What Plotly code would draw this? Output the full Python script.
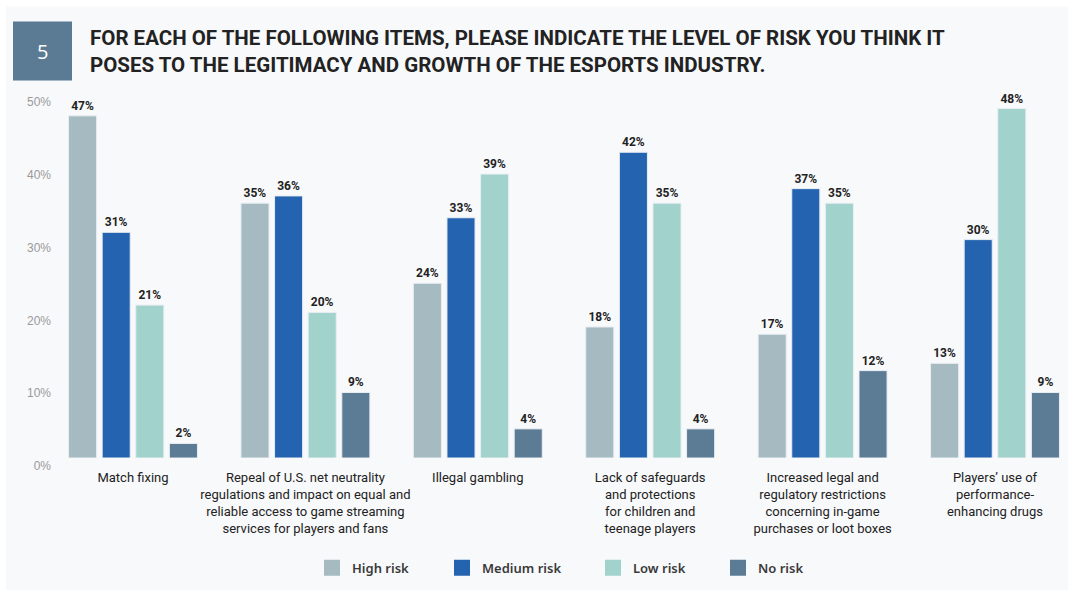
import plotly.graph_objects as go

categories = [
    "Match fixing",
    "Repeal of U.S. net neutrality<br>regulations and impact on equal and<br>reliable access to game streaming<br>services for players and fans",
    "Illegal gambling",
    "Lack of safeguards<br>and protections<br>for children and<br>teenage players",
    "Increased legal and<br>regulatory restrictions<br>concerning in-game<br>purchases or loot boxes",
    "Players’ use of<br>performance-<br>enhancing drugs",
]
series_names = ["High risk", "Medium risk", "Low risk", "No risk"]
high_risk = [47, 35, 24, 18, 17, 13]
medium_risk = [31, 36, 33, 42, 37, 30]
low_risk = [21, 20, 39, 35, 35, 48]
no_risk = [2, 9, 4, 4, 12, 9]
values = [high_risk, medium_risk, low_risk, no_risk]
colors = ["#a5bbc1", "#2463b0", "#a1d2cb", "#5c7b95"]
y_ticks = [0, 10, 20, 30, 40, 50]
y_ticktext = ["0%", "10%", "20%", "30%", "40%", "50%"]
title_lines = [
    "FOR EACH OF THE FOLLOWING ITEMS, PLEASE INDICATE THE LEVEL OF RISK YOU THINK IT",
    "POSES TO THE LEGITIMACY AND GROWTH OF THE ESPORTS INDUSTRY.",
]

W, H = 1068, 590
L, R, T, B = 60, 8, 93.5, 132
pw, ph = W - L - R, H - T - B

def px(x):
    return (x - L) / pw

def py(y):
    return (H - B - y) / ph

NARROW = "Roboto, DejaVu Sans, sans-serif"
legend_left = [324, 454, 605, 730]

fig = go.Figure()
xs = list(range(len(categories)))
for i, (name, vals, col) in enumerate(zip(series_names, values, colors)):
    fig.add_trace(go.Bar(
        x=xs, y=vals, name=name, marker=dict(color=col, line=dict(color="#e8eef2", width=1)),
        text=[f"<b>{v}%</b>" for v in vals], textposition="outside",
        textfont=dict(family=NARROW, size=12, color="#222222"),
        cliponaxis=False, showlegend=False,
    ))
    lg = "legend" if i == 0 else f"legend{i + 1}"
    fig.add_trace(go.Scatter(
        x=[None], y=[None], mode="markers", name=name,
        marker=dict(symbol="square", size=16, color=col),
        showlegend=True, legend=lg,
    ))

# panel, number box and title
fig.add_shape(type="rect", xref="paper", yref="paper",
              x0=px(6), x1=px(W + 5), y0=py(H + 5), y1=py(6),
              fillcolor="#f8f9fb", line=dict(width=0), layer="below")
fig.add_shape(type="rect", xref="paper", yref="paper",
              x0=px(13), x1=px(72), y0=py(80), y1=py(21),
              fillcolor="#5b7b95", line=dict(width=0))
fig.add_annotation(xref="paper", yref="paper", x=px(42.5), y=py(51), text="5",
                   showarrow=False, xanchor="center", yanchor="middle",
                   font=dict(family="Open Sans, sans-serif", size=20, color="white"))
for i, line in enumerate(title_lines):
    fig.add_annotation(xref="paper", yref="paper", x=px(88), y=py(37 + 27 * i), text=f"<b>{line}</b>",
                       showarrow=False, xanchor="left", yanchor="middle",
                       font=dict(family=NARROW, size=20.5, color="#222222"))

legend_style = dict(orientation="h", xanchor="left", y=py(568), yanchor="middle",
                    font=dict(family="Noto Sans, Open Sans, sans-serif", size=13, color="#3a3a3a", weight=600),
                    bgcolor="rgba(0,0,0,0)", borderwidth=0)
legends = {}
for i, xl in enumerate(legend_left):
    key = "legend" if i == 0 else f"legend{i + 1}"
    legends[key] = dict(legend_style, x=px(xl - 12))

fig.update_layout(
    width=W, height=H,
    margin=dict(l=L, r=R, t=T, b=B, autoexpand=False),
    paper_bgcolor="white", plot_bgcolor="rgba(0,0,0,0)",
    barmode="group", bargap=0.22, bargroupgap=0.165,
    showlegend=True,
    xaxis=dict(range=[(L - 133) / 172.4, (W - R - 133) / 172.4], tickmode="array",
               tickvals=xs, ticktext=categories, showgrid=False, zeroline=False, showline=False,
               ticks="", ticklabelstandoff=10,
               tickfont=dict(family=NARROW, size=13, color="#222222")),
    yaxis=dict(range=[0, 50], tickmode="array", tickvals=y_ticks, ticktext=y_ticktext,
               showgrid=False, zeroline=False, showline=False, ticks="",
               ticklabelshift=8, ticklabelstandoff=8,
               tickfont=dict(family="Liberation Sans, Arial, sans-serif", size=12, color="#9a9a9a")),
    **legends,
)

fig.write_html("out.html")
